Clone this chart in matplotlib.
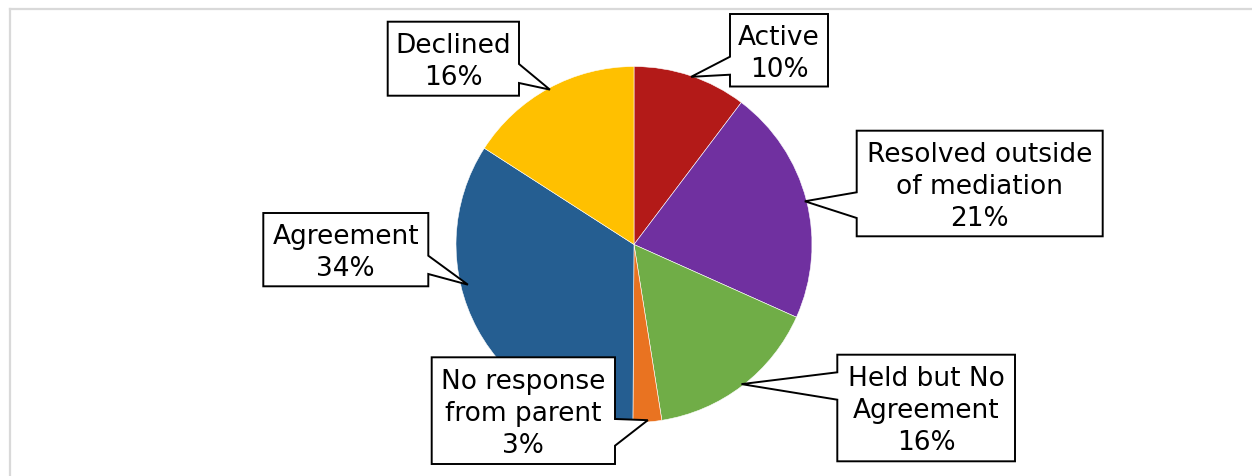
import numpy as np
import matplotlib
matplotlib.use("Agg")
import matplotlib.pyplot as plt
from matplotlib.patches import Polygon
from matplotlib.lines import Line2D

# ---- data ----
categories = ["Active", "Resolved outside\nof mediation", "Held but No\nAgreement",
              "No response\nfrom parent", "Agreement", "Declined"]
values = [10.3, 21.4, 15.8, 2.6, 34.0, 15.9]
pct_labels = ["10%", "21%", "16%", "3%", "34%", "16%"]
colors = ["#B31A18", "#7030A0", "#70AD47", "#E97321", "#255E91", "#FFC000"]

# ---- layout (pixels) ----
W, H = 1252, 477
CX, CY, R = 634, 245.5, 178.0
# box: left, top, right, bottom ; side of wedge ; wedge base y0,y1 ; tip angle ; tip radius
boxes = [
    (730, 15, 828, 87.5, "left", 57.7, 75.7, 71.2, 0.995),
    (856.7, 131.7, 1102.7, 237.3, "left", 193.3, 219, 14.2, 0.99),
    (837.3, 355.7, 1015, 462.3, "left", 373.3, 400.7, -52.4, 0.99),
    (431.7, 358.3, 615, 465, "right", 420, 446.7, -85.5, 0.99),
    (263.3, 214, 428.3, 287.3, "right", 256.7, 275, 193.6, 0.96),
    (387.7, 22.7, 519, 96.7, "right", 65, 84, 118.5, 0.99),
]

def px(x, y):
    return ((x - CX) / R, (CY - y) / R)

fig = plt.figure(figsize=(W / 100, H / 100), dpi=100)
ax = fig.add_axes([0, 0, 1, 1])
ax.pie(values, colors=colors, startangle=90, counterclock=False, radius=1.0,
       wedgeprops=dict(edgecolor="white", linewidth=0.4))
ax.set_xlim(-CX / R, (W - CX) / R)
ax.set_ylim(-(H - CY) / R, CY / R)
ax.set_aspect("auto")
ax.axis("off")

for cat, pct, (l, t, r, b, side, w0, w1, ang, tr) in zip(categories, pct_labels, boxes):
    tip = (tr * np.cos(np.radians(ang)), tr * np.sin(np.radians(ang)))
    if side == "left":
        pts = [px(l, t), px(r, t), px(r, b), px(l, b), px(l, w1), tip, px(l, w0)]
    else:
        pts = [px(l, t), px(r, t), px(r, w0), tip, px(r, w1), px(r, b), px(l, b)]
    ax.add_patch(Polygon(pts, closed=True, facecolor="white", edgecolor="black",
                         linewidth=1.4, joinstyle="miter", zorder=5))
    cx, cy = px((l + r) / 2, (t + b) / 2 + 2.5)
    ax.text(cx, cy, cat + "\n" + pct, ha="center", va="center", multialignment="center",
            fontsize=19, family="DejaVu Sans", color="#000000", linespacing=1.3, zorder=6)

# outer frame (light gray)
fig.add_artist(Line2D([10 / W, 1.0], [1 - 10 / H, 1 - 10 / H], color="#D9D9D9", lw=1.6,
                      transform=fig.transFigure))
fig.add_artist(Line2D([10 / W, 10 / W], [1 - 10 / H, 0], color="#D9D9D9", lw=1.6,
                      transform=fig.transFigure))

fig.savefig("out.png", dpi=100, facecolor="white")
